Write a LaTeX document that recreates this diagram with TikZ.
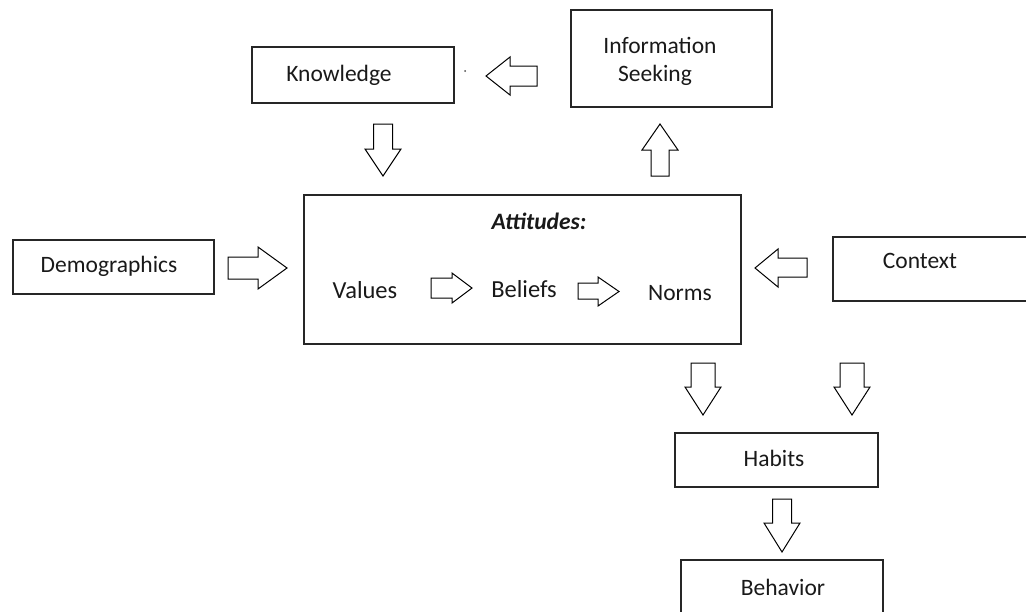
\documentclass[tikz,border=0pt]{standalone}
\usepackage{fontspec}
\setmainfont{Carlito}
\tikzset{
  box/.style={draw=black!85, line width=1.6pt, rectangle, inner sep=0pt},
  txt/.style={anchor=base, inner sep=0pt, font=\fontsize{23.5}{28}\selectfont, text=black!90},
  blockarrow/.style={draw=black, line width=1pt, fill=white, line join=miter}
}
\begin{document}
\begin{tikzpicture}[x=1pt,y=-1pt]
\useasboundingbox (0,0) rectangle (1026,611);
\clip (0,0) rectangle (1026,611);
% boxes
\node[box, minimum width=202pt, minimum height=56pt] (know) at (353,75) {};
\node[box, minimum width=201pt, minimum height=97pt] (info) at (671.5,58.5) {};
\node[box, minimum width=201pt, minimum height=54pt] (demo) at (113.5,267) {};
\node[box, minimum width=437pt, minimum height=149pt] (att) at (522.5,269.5) {};
\node[box, minimum width=260pt, minimum height=64pt] (ctx) at (963,269) {};
\node[box, minimum width=203pt, minimum height=54pt] (hab) at (776.5,460) {};
\node[box, minimum width=202pt, minimum height=70pt] (beh) at (782,595) {};
% texts
\node[txt] (tknow) at (339,81) {Knowledge};
\node[txt] (tinfoA) at (660,53) {Information};
\node[txt] (tinfoB) at (655,81) {Seeking};
\node[txt] (tdemo) at (109,272) {Demographics};
\node[txt] (tctx) at (920,268) {Context};
\node[txt, font=\fontsize{23.5}{28}\selectfont\bfseries\itshape] (tatt) at (539,229) {Attitudes:};
\node[txt, font=\fontsize{24.5}{28}\selectfont] (tval) at (365,298) {Values};
\node[txt, font=\fontsize{24.5}{28}\selectfont] (tbel) at (524,297) {Beliefs};
\node[txt] (tnorm) at (680,300) {Norms};
\node[txt] (thab) at (774,466) {Habits};
\node[txt] (tbeh) at (783,595) {Behavior};
% stray dot
\fill[black!70] (465,71) circle (1pt);
% block arrows
% Information Seeking -> Knowledge (left)
\draw[blockarrow] (537,66) -- (510,66) -- (510,57) -- (486,76) -- (510,95) -- (510,86) -- (537,86) -- cycle;
% Knowledge -> Attitudes (down)
\draw[blockarrow] (373.5,124) -- (392.5,124) -- (392.5,149) -- (401,149) -- (383,176) -- (365,149) -- (373.5,149) -- cycle;
% Attitudes -> Information Seeking (up)
\draw[blockarrow] (651,176) -- (669,176) -- (669,150) -- (678,150) -- (660,124) -- (642,150) -- (651,150) -- cycle;
% Demographics -> Attitudes (right)
\draw[blockarrow] (228,257) -- (258,257) -- (258,247) -- (287,268) -- (258,289) -- (258,279) -- (228,279) -- cycle;
% Context -> Attitudes (left)
\draw[blockarrow] (807,258) -- (778,258) -- (778,249) -- (755,268) -- (778,287) -- (778,277) -- (807,277) -- cycle;
% Values -> Beliefs
\draw[blockarrow] (431,278) -- (452,278) -- (452,273) -- (472,288) -- (452,303) -- (452,298) -- (431,298) -- cycle;
% Beliefs -> Norms
\draw[blockarrow] (578,283) -- (598,283) -- (598,277) -- (619,291.5) -- (598,306) -- (598,299) -- (578,299) -- cycle;
% Attitudes -> Habits (left down arrow)
\draw[blockarrow] (691,363) -- (715,363) -- (715,387) -- (721,387) -- (703,415) -- (685,387) -- (691,387) -- cycle;
% Context -> Habits (right down arrow)
\draw[blockarrow] (840,363) -- (864,363) -- (864,387) -- (870,387) -- (852,415) -- (834,387) -- (840,387) -- cycle;
% Habits -> Behavior
\draw[blockarrow] (772.5,499) -- (791.5,499) -- (791.5,523) -- (800,523) -- (782,552) -- (764,523) -- (772.5,523) -- cycle;
\end{tikzpicture}
\end{document}
